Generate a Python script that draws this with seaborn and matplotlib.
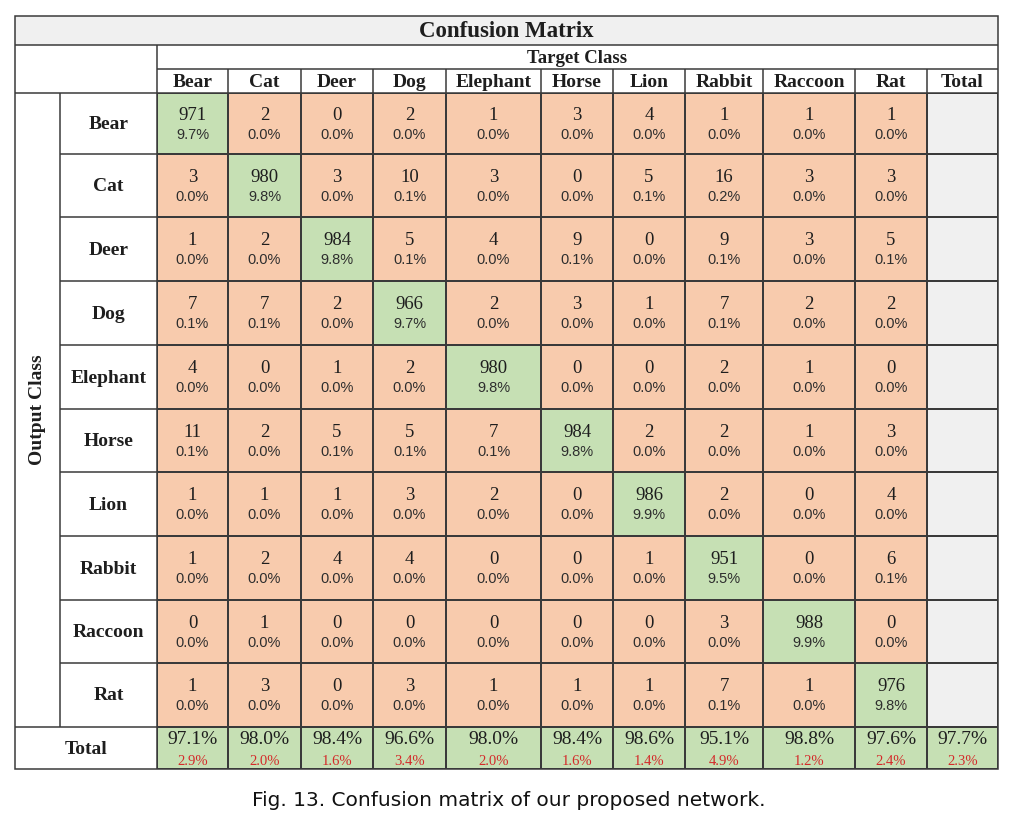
import numpy as np
import pandas as pd
import matplotlib
matplotlib.use("Agg")
import matplotlib.pyplot as plt
import seaborn as sns
from matplotlib.colors import ListedColormap
from matplotlib.patches import Rectangle

# --- data ---
classes = ["Bear", "Cat", "Deer", "Dog", "Elephant", "Horse", "Lion", "Rabbit", "Raccoon", "Rat"]

# rows = output class, columns = target class
bear_row     = [971, 2, 0, 2, 1, 3, 4, 1, 1, 1]
cat_row      = [3, 980, 3, 10, 3, 0, 5, 16, 3, 3]
deer_row     = [1, 2, 984, 5, 4, 9, 0, 9, 3, 5]
dog_row      = [7, 7, 2, 966, 2, 3, 1, 7, 2, 2]
elephant_row = [4, 0, 1, 2, 980, 0, 0, 2, 1, 0]
horse_row    = [11, 2, 5, 5, 7, 984, 2, 2, 1, 3]
lion_row     = [1, 1, 1, 3, 2, 0, 986, 2, 0, 4]
rabbit_row   = [1, 2, 4, 4, 0, 0, 1, 951, 0, 6]
raccoon_row  = [0, 1, 0, 0, 0, 0, 0, 3, 988, 0]
rat_row      = [1, 3, 0, 3, 1, 1, 1, 7, 1, 976]

total_acc = [97.1, 98.0, 98.4, 96.6, 98.0, 98.4, 98.6, 95.1, 98.8, 97.6, 97.7]
total_err = [2.9, 2.0, 1.6, 3.4, 2.0, 1.6, 1.4, 4.9, 1.2, 2.4, 2.3]

cm = pd.DataFrame([bear_row, cat_row, deer_row, dog_row, elephant_row, horse_row,
                   lion_row, rabbit_row, raccoon_row, rat_row],
                  index=classes, columns=classes)
n_total = cm.values.sum()

# --- style ---
GREEN = "#c6e0b4"
ORANGE = "#f8cbad"
GRAY = "#f0f0f0"
GRID = "#3a3a3a"
TXT = "#1e1e1e"
RED = "#d42a2a"

sns.set_theme(style="white")
plt.rcParams["font.family"] = ["Liberation Serif", "DejaVu Serif"]

W, H = 1018, 817
fig = plt.figure(figsize=(W / 100, H / 100), dpi=100)
fig.patch.set_facecolor("white")

# table geometry in pixels
col_edges = [157, 228, 301, 373, 446, 541, 613, 685, 763, 855, 927, 998]
row_edges = [93, 154, 217, 281, 345, 409, 472, 536, 600, 663, 727, 769]
LEFT, RIGHT, TOP = 15, 998, 16
Y_TITLE, Y_TARGET, Y_HEAD = 45, 69, 93
X_OUT = 60


def fig_rect(x0, x1, y0, y1):
    return [x0 / W, 1 - y1 / H, (x1 - x0) / W, (y1 - y0) / H]


def piecewise(edges):
    edges = np.asarray(edges, float)
    idx = np.arange(len(edges), dtype=float)

    def fwd(v):
        v = np.asarray(v, float)
        out = np.interp(v, idx, edges)
        out = np.where(v < 0, edges[0] + v * (edges[1] - edges[0]), out)
        out = np.where(v > idx[-1], edges[-1] + (v - idx[-1]) * (edges[-1] - edges[-2]), out)
        return out

    def inv(p):
        p = np.asarray(p, float)
        out = np.interp(p, edges, idx)
        out = np.where(p < edges[0], (p - edges[0]) / (edges[1] - edges[0]), out)
        out = np.where(p > edges[-1], idx[-1] + (p - edges[-1]) / (edges[-1] - edges[-2]), out)
        return out

    return fwd, inv


# --- cell colours: 0 = miss (orange), 1 = hit (green); gray total column masked ---
n = len(classes)
codes = np.zeros((n + 1, n + 1))
codes[np.arange(n), np.arange(n)] = 1
codes[n, :] = 1
mask = np.zeros_like(codes, dtype=bool)
mask[:n, n] = True

ax = fig.add_axes(fig_rect(col_edges[0], col_edges[-1], row_edges[0], row_edges[-1]))
sns.heatmap(codes, mask=mask, cmap=ListedColormap([ORANGE, GREEN]), vmin=-0.5, vmax=1.5,
            cbar=False, linewidths=1.1, linecolor=GRID, ax=ax,
            xticklabels=False, yticklabels=False)
ax.set_facecolor(GRAY)
fx, ix = piecewise(col_edges)
fy, iy = piecewise(row_edges)
ax.set_xscale("function", functions=(fx, ix))
ax.set_yscale("function", functions=(fy, iy))
ax.set_xlim(0, n + 1)
ax.set_ylim(n + 1, 0)
ax.set_xticks([])
ax.set_yticks([])
ax.set_xlabel("")
ax.set_ylabel("")

# cell texts
for i in range(n):
    for j in range(n):
        v = cm.iat[i, j]
        ax.annotate(f"{v}", xy=(j + 0.5, i + 0.5), xytext=(0, 6.0), textcoords="offset points",
                    ha="center", va="center", fontsize=13.5, color=TXT)
        ax.annotate(f"{100 * v / n_total:.1f}%", xy=(j + 0.5, i + 0.5), xytext=(0, -8.0),
                    textcoords="offset points", ha="center", va="center", fontsize=10.5,
                    color="#2e2e2e", family=["Liberation Sans", "DejaVu Sans"])
for j in range(n + 1):
    ax.annotate(f"{total_acc[j]:.1f}%", xy=(j + 0.5, n + 0.5), xytext=(0, 6.0),
                textcoords="offset points", ha="center", va="center", fontsize=14, color=TXT)
    ax.annotate(f"{total_err[j]:.1f}%", xy=(j + 0.5, n + 0.5), xytext=(0, -9.5),
                textcoords="offset points", ha="center", va="center", fontsize=10.5, color=RED)

# --- frame, headers and labels (pixel coordinates) ---
fr = fig.add_axes([0, 0, 1, 1], zorder=5)
fr.set_xlim(0, W)
fr.set_ylim(H, 0)
fr.axis("off")
fr.patch.set_alpha(0)

fr.add_patch(Rectangle((LEFT, TOP), RIGHT - LEFT, Y_TITLE - TOP, facecolor=GRAY, edgecolor="none", zorder=0))
fr.add_patch(Rectangle((LEFT, TOP), RIGHT - LEFT, row_edges[-1] - TOP, fill=False, edgecolor=GRID, lw=1.1, zorder=3))
lw = 1.1
fr.hlines([Y_TITLE, Y_HEAD, row_edges[-2]], LEFT, RIGHT, color=GRID, lw=lw)
fr.hlines(Y_TARGET, col_edges[0], RIGHT, color=GRID, lw=lw)
fr.hlines(row_edges[1:-2], X_OUT, col_edges[0], color=GRID, lw=lw)
fr.vlines(col_edges[0], Y_TITLE, row_edges[-1], color=GRID, lw=lw)
fr.vlines(X_OUT, Y_HEAD, row_edges[-2], color=GRID, lw=lw)
fr.vlines(col_edges[1:-1], Y_TARGET, Y_HEAD, color=GRID, lw=lw)

fr.text((LEFT + RIGHT) / 2, (TOP + Y_TITLE) / 2 + 1, "Confusion Matrix", ha="center", va="center",
        fontsize=16.5, fontweight="bold", color=TXT)
fr.text((col_edges[0] + RIGHT) / 2, (Y_TITLE + Y_TARGET) / 2 + 1, "Target Class", ha="center", va="center",
        fontsize=13.5, fontweight="bold", color=TXT)
for j, lab in enumerate(classes + ["Total"]):
    fr.text((col_edges[j] + col_edges[j + 1]) / 2, (Y_TARGET + Y_HEAD) / 2 + 1, lab, ha="center", va="center",
            fontsize=14, fontweight="bold", color=TXT)
for i, lab in enumerate(classes):
    fr.text((X_OUT + col_edges[0]) / 2, (row_edges[i] + row_edges[i + 1]) / 2 + 1, lab, ha="center",
            va="center", fontsize=14, fontweight="bold", color=TXT)
fr.text((LEFT + X_OUT) / 2, (row_edges[0] + row_edges[-2]) / 2, "Output Class", rotation=90,
        ha="center", va="center", fontsize=14, fontweight="bold", color=TXT)
fr.text((LEFT + col_edges[0]) / 2, (row_edges[-2] + row_edges[-1]) / 2 + 2, "Total", ha="center", va="center",
        fontsize=14, fontweight="bold", color=TXT)

fr.text(509, 800, "Fig. 13. Confusion matrix of our proposed network.", ha="center", va="center",
        fontsize=14.5, color="#111111", family=["DejaVu Sans"])

fig.savefig("out.png", dpi=100, facecolor="white")
